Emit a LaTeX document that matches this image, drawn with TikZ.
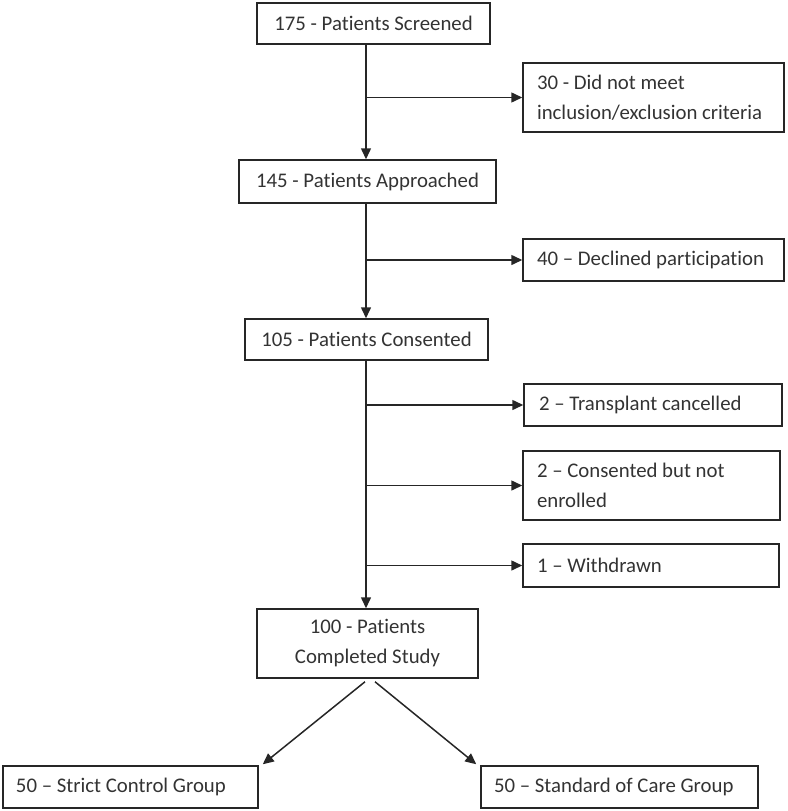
\documentclass[tikz,border=0pt]{standalone}
\usepackage{fontspec}
\setmainfont{Carlito}[Ligatures=NoCommon]
\usetikzlibrary{arrows.meta,calc}
\begin{document}
\begin{tikzpicture}[x=1pt,y=-1pt,
  box/.style={draw=black!85, line width=1.5pt, inner sep=0pt,
    font=\fontsize{20.8}{30}\selectfont, text=black!80, align=flush center},
  lbox/.style={box, align=flush left, inner xsep=14pt},
  arr/.style={draw=black!85, line width=1.5pt, -{Triangle[length=11pt,width=10pt]}}]
\useasboundingbox (0,0) rectangle (787,811);
% trunk boxes
\node[box, minimum width=233pt, minimum height=41pt] (b1) at (373.5,23.5) {175 - Patients Screened};
\node[box, minimum width=257pt, minimum height=43pt] (b3) at (367.5,181.5) {145 - Patients Approached};
\node[box, minimum width=243pt, minimum height=41pt] (b5) at (366.5,339.5) {105 - Patients Consented};
\node[box, minimum width=221pt, minimum height=69pt] (b9) at (367.5,643.5) {100 - Patients\\Completed Study};
% side boxes
\node[lbox, text width=233pt, minimum height=69pt] (b2) at (653.5,97.5) {30 - Did not meet\\inclusion/exclusion criteria};
\node[lbox, text width=233pt, minimum height=42pt] (b4) at (653.5,260) {40 -- Declined participation};
\node[lbox, inner xsep=15pt, text width=228pt, minimum height=42pt] (b6) at (653,405) {2 -- Transplant cancelled};
\node[lbox, text width=229pt, minimum height=69pt] (b7) at (651.5,485.5) {2 -- Consented but not\\enrolled};
\node[lbox, text width=228pt, minimum height=43pt] (b8) at (651,565.5) {1 -- Withdrawn};
% bottom boxes
\node[lbox, inner xsep=13pt, text width=229pt, minimum height=42pt] (b10) at (130.5,787) {50 -- Strict Control Group};
\node[lbox, inner xsep=13pt, text width=251pt, minimum height=42pt] (b11) at (619.5,787) {50 -- Standard of Care Group};
% trunk
\coordinate (t) at (366,0);
\draw[arr] (b1.south -| t) -- (b3.north -| t);
\draw[arr] (b3.south -| t) -- (b5.north -| t);
\draw[arr] (b5.south -| t) -- (b9.north -| t);
% branches
\draw[arr] (b2.west -| t) -- (b2.west);
\draw[arr] (b4.west -| t) -- (b4.west);
\draw[arr] (b6.west -| t) -- (b6.west);
\draw[arr] (b7.west -| t) -- (b7.west);
\draw[arr] (b8.west -| t) -- (b8.west);
% split
\coordinate (dl) at ($(b9.south)+(-2.5,3)$);
\coordinate (dr) at ($(b9.south)+(7.5,3)$);
\draw[arr] (dl) -- ($(b10.north east)+(4,-1)$);
\draw[arr] (dr) -- ($(b11.north west)+(-4,-1)$);
\end{tikzpicture}
\end{document}
